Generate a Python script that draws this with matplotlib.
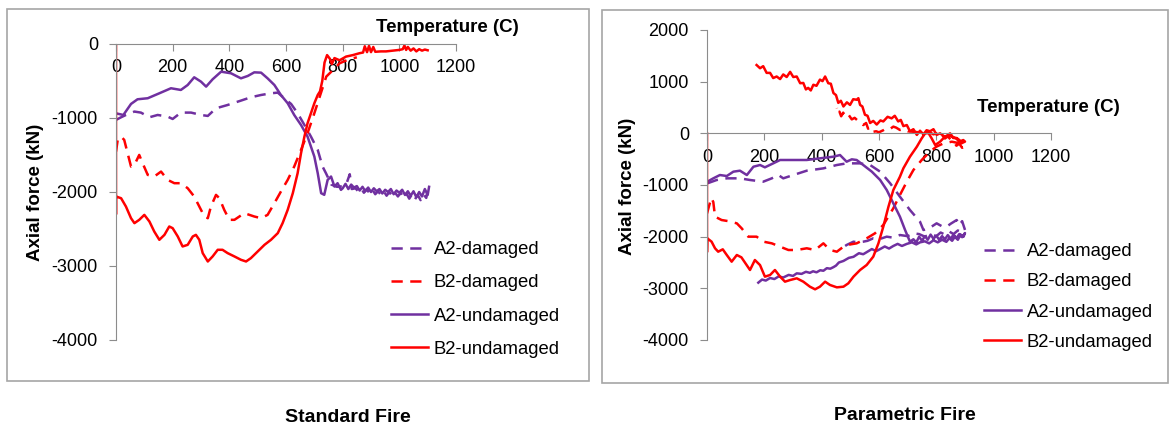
import matplotlib.pyplot as plt
from matplotlib.patches import Rectangle

plt.rcParams['font.family'] = ['Liberation Sans', 'DejaVu Sans']
plt.rcParams['axes.unicode_minus'] = False

PURPLE = '#7030a0'
RED = '#ff0000'
GREY = '#8c8c8c'

# ---- Standard fire: axial force (kN) against temperature (C) ----
std_a2_dmg_t = [0, 18, 35, 65, 88, 118, 147, 182, 200, 229, 265, 300, 324, 353, 394, 441, 476, 512,
                547, 571, 594, 618, 641, 665, 688, 712, 729, 741, 760, 780, 805, 815, 825, 832, 845,
                855, 865, 875, 885, 895, 905, 915, 925, 935, 945, 955, 965, 975, 985, 995, 1005, 1015,
                1025, 1035, 1045, 1055, 1065, 1075, 1085, 1095, 1100]
std_a2_dmg_f = [-1026, -990, -959, -913, -927, -990, -959, -981, -1013, -927, -927, -959, -972, -869,
                -824, -765, -720, -689, -666, -657, -734, -810, -936, -1094, -1251, -1431, -1656, -1746,
                -1900, -1930, -1920, -1870, -1760, -1960, -1950, -1990, -1950, -2010, -1960, -2020,
                -1970, -2030, -1990, -2040, -1990, -2050, -2000, -2060, -2010, -2060, -2010, -2080,
                -2020, -2090, -2030, -2100, -2040, -2110, -2030, -2080, -1990]

std_b2_dmg_t = [0, 6, 18, 29, 41, 53, 65, 82, 94, 112, 135, 159, 182, 206, 229, 253, 276, 300, 312,
                324, 335, 353, 365, 382, 400, 418, 453, 488, 512, 535, 559, 582, 606, 629, 653, 676,
                700, 720, 742, 766, 789, 820, 850]
std_b2_dmg_f = [-1454, -1296, -1251, -1296, -1476, -1656, -1634, -1499, -1611, -1769, -1791, -1724,
                -1836, -1881, -1881, -1949, -2061, -2241, -2331, -2354, -2196, -2039, -2084, -2241,
                -2376, -2376, -2286, -2331, -2354, -2309, -2151, -1994, -1836, -1656, -1431, -1206,
                -936, -700, -441, -351, -261, -210, -180]

std_a2_und_t = [0, 26, 53, 76, 112, 153, 194, 229, 253, 276, 300, 318, 341, 371, 406, 441, 465, 488,
                512, 535, 559, 582, 606, 629, 653, 676, 700, 712, 724, 735, 747, 759, 771, 782, 794,
                800, 810, 820, 830, 840, 850, 860, 870, 880, 890, 900, 910, 920, 930, 940, 950, 960,
                970, 980, 990, 1000, 1010, 1020, 1030, 1040, 1050, 1060, 1070, 1080, 1090, 1100, 1105]
std_a2_und_f = [-937, -959, -810, -747, -733, -666, -598, -621, -554, -450, -509, -576, -477, -374,
                -396, -464, -432, -383, -387, -464, -554, -689, -801, -959, -1094, -1251, -1521,
                -1746, -2016, -2038, -1836, -1791, -1926, -1881, -1971, -1950, -1890, -1960, -1900,
                -1940, -1920, -1980, -1930, -1990, -1940, -2000, -1950, -1990, -1960, -2020, -1970,
                -2000, -1960, -2030, -1980, -2010, -1970, -2040, -1990, -2050, -1990, -2070, -2000,
                -2060, -1960, -2040, -1930]

std_b2_und_t = [0, 0, 0, 18, 35, 53, 65, 82, 100, 118, 135, 153, 171, 188, 200, 218, 235, 253, 271,
                282, 294, 306, 324, 341, 359, 376, 394, 418, 441, 459, 476, 500, 524, 547, 571, 588,
                606, 624, 641, 653, 665, 676, 688, 700, 712, 720, 728, 736, 745, 755, 762, 771, 789,
                812, 836, 859, 872, 878, 886, 893, 900, 908, 915, 935, 953, 988, 1000, 1012, 1018,
                1024, 1030, 1040, 1050, 1060, 1070, 1080, 1090, 1100]
std_b2_und_f = [0, -2300, -2061, -2084, -2196, -2354, -2421, -2376, -2309, -2399, -2534, -2646,
                -2579, -2466, -2489, -2601, -2736, -2714, -2601, -2579, -2646, -2826, -2939, -2871,
                -2781, -2781, -2826, -2871, -2916, -2939, -2894, -2804, -2714, -2646, -2556, -2421,
                -2241, -2016, -1746, -1476, -1251, -1071, -936, -801, -689, -640, -500, -250, -150,
                -200, -270, -190, -220, -170, -150, -125, -115, -30, -110, -25, -110, -40, -105,
                -100, -100, -85, -80, -70, -20, -80, -40, -90, -60, -100, -70, -90, -75, -85]

# ---- Parametric fire: heating branch followed by the cooling branch ----
par_a2_dmg_t = [1, 34, 69, 115, 150, 196, 226, 249, 266, 301, 348, 406, 453, 487, 534, 569, 604,
                639, 673, 708, 743, 755, 770, 785, 801, 820, 836, 850, 871, 880, 890, 900,
                890, 875, 860, 845, 830, 815, 800, 780, 760, 740, 720, 700, 673, 650, 627, 600,
                580, 560, 545, 525, 511, 487, 470, 464]
par_a2_dmg_f = [-968, -903, -871, -871, -903, -936, -871, -807, -871, -807, -723, -678, -613, -581,
                -581, -613, -742, -968, -1226, -1484, -1710, -1871, -1850, -1800, -1742, -1800,
                -1807, -1750, -1678, -1780, -1700, -1870,
                -1920, -1880, -1950, -1900, -1960, -1920, -1990, -1950, -2000, -1950, -1935, -1990,
                -1968, -2020, -2000, -2050, -2032, -2080, -2097, -2110, -2097, -2161, -2225, -2260]

par_b2_dmg_t = [0, 15, 22, 28, 51, 75, 104, 121, 144, 173, 197, 226, 255, 284, 313, 348, 377, 406,
                429, 453, 476, 500, 522, 557, 586, 615, 650, 673, 697, 720, 749, 778, 800, 825, 854,
                883, 900,
                890, 880, 870, 860, 850, 840, 830, 820, 810, 800, 790, 780, 760, 740, 720, 700, 685,
                673, 660, 650, 640, 627, 615, 600, 590, 580, 570, 562, 555, 545, 534, 525, 515, 505,
                495, 485, 475, 468, 462, 457, 453]
par_b2_dmg_f = [-1550, -1250, -1330, -1613, -1678, -1700, -1742, -1839, -2000, -2000, -2097, -2129,
                -2194, -2258, -2258, -2225, -2258, -2129, -2258, -2291, -2194, -2150, -2129, -2032,
                -1935, -1774, -1450, -1194, -936, -710, -516, -355, -259, -194, -162, -194, -250,
                -280, -200, -240, -150, -120, -60, -100, -30, -60, 0, -20, 10, 0, 20, 30, 40, 80, 65,
                110, 130, 90, 100, 60, 20, 40, 30, 120, 90, 200, 160, 220, 250, 300, 270, 350, 310,
                400, 330, 420, 380, 490]

par_a2_und_t = [1, 22, 45, 69, 92, 115, 139, 162, 185, 202, 231, 255, 301, 348, 394, 441, 464, 487,
                505, 522, 545, 575, 604, 627, 650, 673, 691, 708, 720, 730, 740, 750, 760, 770, 780,
                790, 800, 810, 820, 830, 840, 850, 860, 870, 880, 890, 900,
                895, 885, 875, 865, 855, 845, 835, 820, 805, 790, 775, 760, 743, 730, 715, 697, 680,
                665, 650, 635, 620, 604, 590, 575, 557, 545, 530, 511, 495, 476, 460, 450, 441, 430,
                418, 406, 395, 382, 370, 359, 345, 330, 313, 300, 285, 266, 250, 235, 220, 205, 192,
                179]
par_a2_und_f = [-936, -871, -807, -826, -742, -723, -807, -646, -613, -658, -581, -516, -516, -516,
                -484, -452, -420, -549, -503, -516, -613, -742, -903, -1097, -1355, -1613, -1871,
                -2097, -2050, -2110, -2000, -2080, -1990, -2060, -1960, -2040, -1980, -2060, -1990,
                -2050, -1970, -2040, -1960, -2030, -1950, -2010, -1930,
                -2000, -1960, -2060, -2000, -2080, -2030, -2100, -2060, -2110, -2070, -2130, -2090,
                -2110, -2150, -2110, -2140, -2180, -2140, -2180, -2230, -2190, -2240, -2280, -2240,
                -2300, -2340, -2320, -2390, -2410, -2470, -2500, -2560, -2590, -2620, -2610, -2660,
                -2650, -2690, -2670, -2700, -2680, -2720, -2710, -2760, -2740, -2790, -2770, -2820,
                -2800, -2850, -2830, -2890]

par_b2_und_t = [0, 0, 1, 16, 28, 39, 55, 69, 86, 104, 120, 150, 167, 185, 202, 220, 237, 255, 272,
                290, 313, 336, 359, 377, 394, 412, 429, 453, 476, 493, 511, 534, 557, 580, 598, 615,
                633, 650, 673, 685, 708, 732, 749, 761, 772, 784, 796, 813, 830, 848, 870, 885, 900,
                894, 885, 871, 860, 848, 830, 813, 801, 790, 778, 766, 755, 743, 732, 720, 708, 697,
                685, 676, 667, 655, 644, 630, 615, 605, 592, 580, 569, 560, 551, 542, 534, 528, 522,
                510, 499, 488, 476, 467, 458, 450, 441, 432, 423, 412, 403, 394, 382, 371, 362, 353,
                345, 336, 325, 313, 301, 290, 278, 266, 255, 243, 231, 220, 208, 196, 185, 173]
par_b2_und_f = [0, -2300, -2032, -2097, -2225, -2291, -2245, -2355, -2484, -2355, -2400, -2645,
                -2452, -2550, -2774, -2742, -2645, -2774, -2871, -2839, -2806, -2871, -2968, -3019,
                -2968, -2871, -2935, -2981, -2968, -2903, -2774, -2645, -2548, -2387, -2129, -1807,
                -1420, -1097, -840, -677, -452, -259, -97, 0, 12, -100, -226, -162, -65, -52, -100,
                -200, -160,
                -130, -150, -90, -90, 0, -70, 0, -30, 80, 40, 60, -20, 50, -30, 80, 40, 160, 140,
                260, 230, 340, 290, 320, 230, 250, 170, 240, 200, 340, 360, 520, 550, 680, 650, 660,
                550, 600, 520, 630, 590, 740, 780, 960, 970, 1100, 1010, 1040, 920, 940, 830, 880,
                850, 975, 970, 1100, 1090, 1190, 1090, 1140, 1050, 1100, 1070, 1170, 1170, 1300,
                1260, 1322]

labels = ['A2-damaged', 'B2-damaged', 'A2-undamaged', 'B2-undamaged']

W, H = 1169, 428
fig = plt.figure(figsize=(W / 100, H / 100), dpi=100)


def pixel_axes(x0, y0, x1, y1):
    return fig.add_axes([x0 / W, 1 - y1 / H, (x1 - x0) / W, (y1 - y0) / H])


def frame(x0, y0, x1, y1):
    fig.patches.append(Rectangle((x0 / W, 1 - y1 / H), (x1 - x0) / W, (y1 - y0) / H,
                                 transform=fig.transFigure, fill=False,
                                 edgecolor='#a6a6a6', lw=1.2))


def style(ax, ymin, ymax, yticks):
    ax.set_xlim(0, 1200)
    ax.set_ylim(ymin, ymax)
    ax.patch.set_alpha(0)
    for s in ['top', 'right']:
        ax.spines[s].set_visible(False)
    ax.spines['bottom'].set_position(('data', 0))
    ax.spines['bottom'].set_color(GREY)
    ax.spines['left'].set_color(GREY)
    ax.set_xticks(range(0, 1201, 200))
    ax.set_yticks(yticks)
    ax.tick_params(axis='x', direction='out', length=5, color=GREY, pad=6, labelsize=13)
    ax.tick_params(axis='y', direction='out', length=5, color=GREY, pad=8, labelsize=13)


def draw(ax, a2d, b2d, a2u, b2u):
    lw = 1.8
    ax.plot(*a2d, color=PURPLE, lw=lw, dashes=(4.5, 3), label=labels[0])
    ax.plot(*b2d, color=RED, lw=lw, dashes=(4.5, 3), label=labels[1])
    ax.plot(*a2u, color=PURPLE, lw=lw, label=labels[2])
    ax.plot(*b2u, color=RED, lw=lw, label=labels[3])


frame(7, 9, 589, 381)
frame(602, 10, 1168, 383)

ax1 = pixel_axes(116, 44, 456, 340)
style(ax1, -4000, 0, range(-4000, 1, 1000))
draw(ax1, (std_a2_dmg_t, std_a2_dmg_f), (std_b2_dmg_t, std_b2_dmg_f),
     (std_a2_und_t, std_a2_und_f), (std_b2_und_t, std_b2_und_f))

ax2 = pixel_axes(707, 30, 1051, 340)
style(ax2, -4000, 2000, range(-4000, 2001, 1000))
draw(ax2, (par_a2_dmg_t, par_a2_dmg_f), (par_b2_dmg_t, par_b2_dmg_f),
     (par_a2_und_t, par_a2_und_f), (par_b2_und_t, par_b2_und_f))

legend_kw = dict(loc='upper left', bbox_transform=fig.transFigure, frameon=False,
                 fontsize=13.3, handlelength=2.0, handletextpad=0.3,
                 borderpad=0, borderaxespad=0)
ax1.legend(bbox_to_anchor=(391 / W, 1 - 241 / H), labelspacing=0.88, **legend_kw)
ax2.legend(bbox_to_anchor=(984 / W, 1 - 243 / H), labelspacing=0.72, **legend_kw)

bold = dict(fontsize=13.5, fontweight='bold', ha='center', va='center')
fig.text(36 / W, 1 - 192 / H, 'Axial force (kN)', rotation=90, **bold)
fig.text(628 / W, 1 - 186 / H, 'Axial force (kN)', rotation=90, **bold)
fig.text(447 / W, 1 - 27 / H, 'Temperature (C)', **bold)
fig.text(1048 / W, 1 - 108 / H, 'Temperature (C)', **bold)
fig.text(348 / W, 1 - 418 / H, 'Standard Fire', fontsize=14, fontweight='bold',
         ha='center', va='center')
fig.text(905 / W, 1 - 415 / H, 'Parametric Fire', fontsize=14, fontweight='bold',
         ha='center', va='center')

fig.savefig('out.png', dpi=100)
